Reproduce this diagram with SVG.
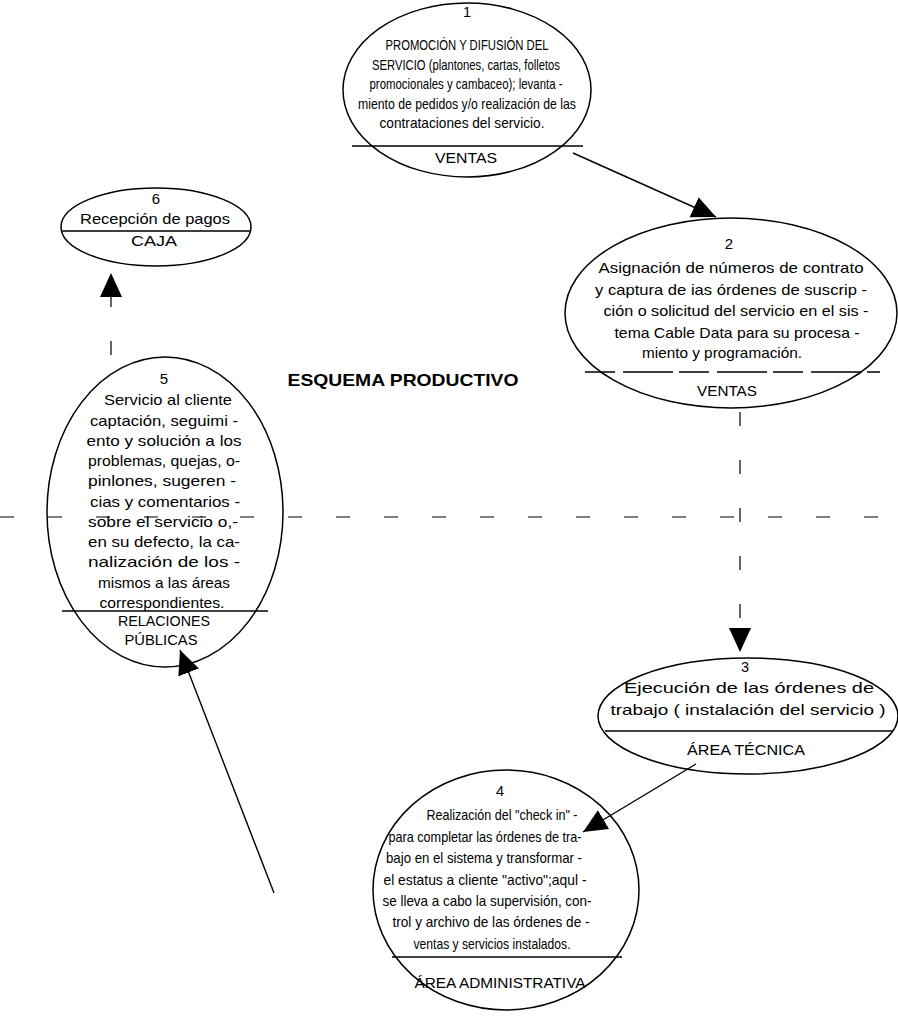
<svg xmlns="http://www.w3.org/2000/svg" width="898" height="1017" viewBox="0 0 898 1017">
<style>
.e{fill:none;stroke:#000;stroke-width:1.5}
.d{stroke:#000;stroke-width:1.3}
text{font-family:"Liberation Sans",Arial,sans-serif;font-size:14px;fill:#000;text-anchor:middle}
.t{font-weight:bold;font-size:17px}
.c{stroke:#000;stroke-width:1.4;fill:none}
.dash{stroke:#000;stroke-width:1.2;fill:none;stroke-dasharray:14 34}
#n1 text{font-size:14.5px}
#n2 text{font-size:15px}
#n3 text{font-size:14.5px}
#n4 text{font-size:14.5px}
#n5 text{font-size:15px}
#n6 text{font-size:15px}
</style>
<defs>
<marker id="ah" markerUnits="userSpaceOnUse" markerWidth="26" markerHeight="22" refX="24" refY="11" orient="auto">
<path d="M0,0 L24,11 L0,22 z" fill="#000"/>
</marker>
</defs>
<g id="connectors">
<line class="c" x1="573" y1="153" x2="716" y2="217" marker-end="url(#ah)"/>
<line class="dash" x1="740" y1="412" x2="740" y2="652" marker-end="url(#ah)"/>
<line class="c" x1="696" y1="764" x2="583" y2="832" marker-end="url(#ah)"/>
<line class="c" x1="274" y1="893" x2="180" y2="650" marker-end="url(#ah)"/>
<line class="dash" x1="111" y1="355" x2="111" y2="273" marker-end="url(#ah)"/>
<line class="dash" x1="0" y1="517" x2="898" y2="517"/>
</g>
<text class="t" x="403" y="386" textLength="231" lengthAdjust="spacingAndGlyphs">ESQUEMA   PRODUCTIVO</text>
<g id="n1">
<ellipse class="e" cx="467" cy="90" rx="124" ry="87"/>
<line class="d" x1="352" y1="146" x2="583" y2="146"/>
<text x="467" y="17">1</text>
<text x="467" y="50" textLength="163" lengthAdjust="spacingAndGlyphs">PROMOCIÓN Y DIFUSIÓN DEL</text>
<text x="466" y="70" textLength="188" lengthAdjust="spacingAndGlyphs">SERVICIO (plantones, cartas, folletos</text>
<text x="466" y="89" textLength="193" lengthAdjust="spacingAndGlyphs">promocionales y cambaceo); levanta  -</text>
<text x="467" y="109" textLength="218" lengthAdjust="spacingAndGlyphs">miento de pedidos y/o realización de las</text>
<text x="462" y="128" textLength="165" lengthAdjust="spacingAndGlyphs">contrataciones del servicio.</text>
<text x="466" y="163" textLength="62" lengthAdjust="spacingAndGlyphs">VENTAS</text>
</g>
<g id="n2">
<ellipse class="e" cx="731" cy="313" rx="166" ry="95"/>
<line class="d" x1="585" y1="372" x2="880" y2="372" stroke-dasharray="30 8 50 6"/>
<text x="729" y="249">2</text>
<text x="731" y="273" textLength="265" lengthAdjust="spacingAndGlyphs">Asignación de números de contrato</text>
<text x="731" y="295" textLength="272" lengthAdjust="spacingAndGlyphs">y captura de ias órdenes de suscrip  -</text>
<text x="736" y="316" textLength="265" lengthAdjust="spacingAndGlyphs">ción o solicitud del servicio en el sis -</text>
<text x="737" y="338" textLength="245" lengthAdjust="spacingAndGlyphs">tema Cable Data para su procesa  -</text>
<text x="722" y="358" textLength="160" lengthAdjust="spacingAndGlyphs">miento y programación.</text>
<text x="727" y="396" textLength="60" lengthAdjust="spacingAndGlyphs">VENTAS</text>
</g>
<g id="n3">
<ellipse class="e" cx="748" cy="716" rx="150" ry="58"/>
<line class="d" x1="605" y1="731" x2="893" y2="731"/>
<text x="745" y="672">3</text>
<text x="749" y="693" textLength="250" lengthAdjust="spacingAndGlyphs">Ejecución de las órdenes de</text>
<text x="748" y="715" textLength="275" lengthAdjust="spacingAndGlyphs">trabajo ( instalación del servicio )</text>
<text x="746" y="755" textLength="118" lengthAdjust="spacingAndGlyphs">ÁREA TÉCNICA</text>
</g>
<g id="n4">
<ellipse class="e" cx="506" cy="890" rx="133" ry="120"/>
<line class="d" x1="392" y1="957" x2="622" y2="957"/>
<text x="500" y="796">4</text>
<text x="502" y="820" textLength="151" lengthAdjust="spacingAndGlyphs">Realización del "check in" -</text>
<text x="485" y="842" textLength="193" lengthAdjust="spacingAndGlyphs">para completar las órdenes de tra-</text>
<text x="484" y="863" textLength="196" lengthAdjust="spacingAndGlyphs">bajo en el sistema y  transformar -</text>
<text x="485" y="885" textLength="203" lengthAdjust="spacingAndGlyphs">el estatus a cliente "activo";aqul  -</text>
<text x="487" y="906" textLength="209" lengthAdjust="spacingAndGlyphs">se lleva a cabo la supervisión, con-</text>
<text x="491" y="927" textLength="197" lengthAdjust="spacingAndGlyphs">trol y archivo de las órdenes de    -</text>
<text x="492" y="949" textLength="157" lengthAdjust="spacingAndGlyphs">ventas y servicios instalados.</text>
<text x="500" y="988" textLength="171" lengthAdjust="spacingAndGlyphs">ÁREA ADMINISTRATIVA</text>
</g>
<g id="n5">
<ellipse class="e" cx="165" cy="512" rx="118" ry="155"/>
<line class="d" x1="62" y1="611" x2="268" y2="611"/>
<text x="164" y="384">5</text>
<text x="168" y="405" textLength="128" lengthAdjust="spacingAndGlyphs">Servicio al cliente</text>
<text x="164" y="426" textLength="148" lengthAdjust="spacingAndGlyphs">captación, seguimi  -</text>
<text x="164" y="446" textLength="155" lengthAdjust="spacingAndGlyphs">ento y solución a los</text>
<text x="164" y="466" textLength="152" lengthAdjust="spacingAndGlyphs">problemas, quejas, o-</text>
<text x="162" y="486" textLength="148" lengthAdjust="spacingAndGlyphs">pinlones, sugeren   -</text>
<text x="165" y="507" textLength="150" lengthAdjust="spacingAndGlyphs">cias y comentarios -</text>
<text x="163" y="527" textLength="150" lengthAdjust="spacingAndGlyphs">sobre el servicio o,-</text>
<text x="164" y="547" textLength="152" lengthAdjust="spacingAndGlyphs">en su defecto, la ca-</text>
<text x="164" y="567" textLength="152" lengthAdjust="spacingAndGlyphs">nalización de los    -</text>
<text x="164" y="588" textLength="132" lengthAdjust="spacingAndGlyphs">mismos a las áreas</text>
<text x="162" y="608" textLength="125" lengthAdjust="spacingAndGlyphs">correspondientes.</text>
<text x="164" y="626" textLength="92" lengthAdjust="spacingAndGlyphs">RELACIONES</text>
<text x="161" y="645" textLength="73" lengthAdjust="spacingAndGlyphs">PÚBLICAS</text>
</g>
<g id="n6">
<ellipse class="e" cx="156" cy="227" rx="95" ry="39"/>
<line class="d" x1="62" y1="231" x2="250" y2="231"/>
<text x="156" y="204">6</text>
<text x="155" y="224" textLength="150" lengthAdjust="spacingAndGlyphs">Recepción de pagos</text>
<text x="154" y="246" textLength="46" lengthAdjust="spacingAndGlyphs">CAJA</text>
</g>
</svg>
